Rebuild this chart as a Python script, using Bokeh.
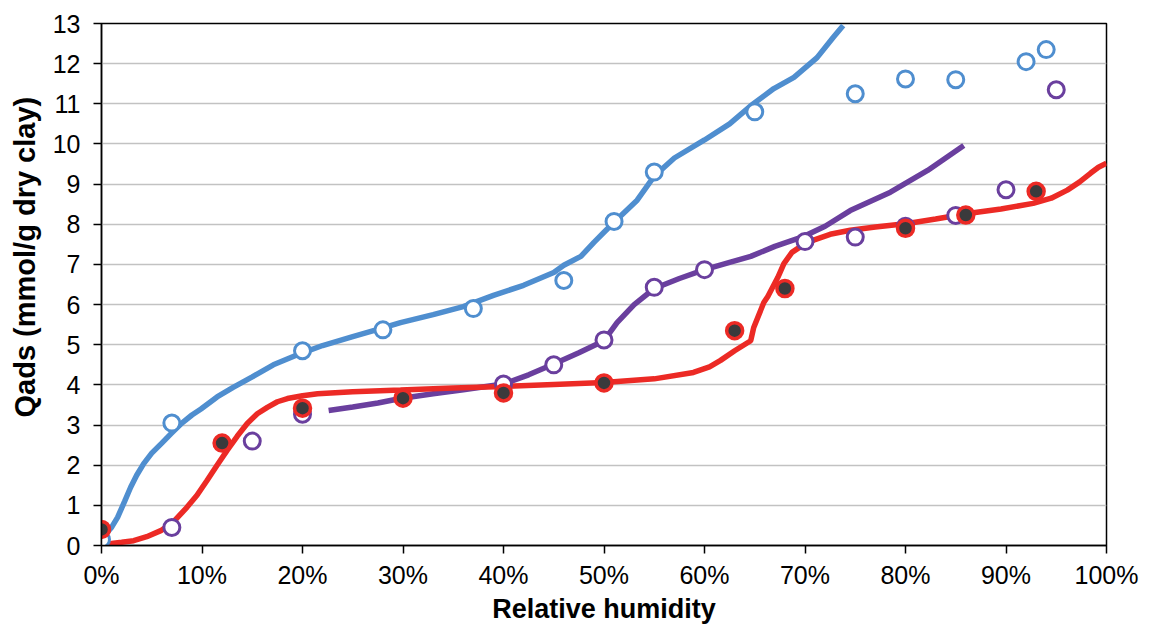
import math
from bokeh.plotting import figure
from bokeh.models import Range1d, FixedTicker, PrintfTickFormatter, Title
from bokeh.embed import file_html
from bokeh.resources import INLINE

# ---- data (x in % relative humidity, y in mmol/g dry clay) ----
blue_pts_x = [0, 7, 20, 28, 37, 46, 51, 55, 65, 75, 80, 85, 92, 94]
blue_pts_y = [0.15, 3.05, 4.85, 5.37, 5.9, 6.6, 8.07, 9.3, 10.8, 11.25, 11.62, 11.6, 12.05, 12.35]

purple_pts_x = [7, 15, 20, 40, 45, 50, 55, 60, 70, 75, 80, 85, 90, 95]
purple_pts_y = [0.45, 2.6, 3.27, 4.02, 4.5, 5.12, 6.43, 6.87, 7.57, 7.68, 7.95, 8.22, 8.86, 11.35]

red_pts_x = [0, 12, 20, 30, 40, 50, 63, 68, 80, 86, 93]
red_pts_y = [0.4, 2.55, 3.42, 3.67, 3.8, 4.05, 5.35, 6.4, 7.9, 8.23, 8.82]

blue_line_x = [0, 1, 1.6, 2.3, 2.9, 3.5, 4.2, 5, 6, 6.9, 8, 9, 9.9, 11.5, 13.1, 15, 17.1, 19.8,
               22, 25, 27.5, 29.75, 33, 36, 39, 42, 45, 46, 47.7, 49, 50, 51, 53.3, 55, 57,
               60, 62.5, 64.6, 66.9, 68.9, 71.2, 72.8, 73.8]
blue_line_y = [0.17, 0.45, 0.7, 1.1, 1.45, 1.75, 2.04, 2.3, 2.55, 2.78, 3.05, 3.25, 3.4, 3.7, 3.94,
               4.2, 4.5, 4.78, 4.98, 5.2, 5.38, 5.55, 5.75, 5.95, 6.23, 6.48, 6.8, 6.98, 7.2, 7.55,
               7.8, 8.05, 8.6, 9.2, 9.65, 10.1, 10.5, 10.95, 11.38, 11.66, 12.15, 12.65, 12.95]

purple_line_x = [22.6, 25, 27.5, 29.75, 33, 36, 40, 42.5, 45, 47.5, 50, 51.3, 53, 55, 57.5, 60,
                 62.5, 64.6, 67, 69.9, 72, 74.5, 78.5, 82.2, 85.8]
purple_line_y = [3.36, 3.45, 3.55, 3.66, 3.78, 3.88, 4.02, 4.25, 4.52, 4.8, 5.1, 5.55, 6.0, 6.4,
                 6.65, 6.87, 7.05, 7.2, 7.45, 7.7, 7.95, 8.34, 8.8, 9.34, 9.96]

red_line_x = [0.6, 2, 3.2, 4.5, 5.9, 7.2, 8.5, 9.5, 10.5, 11.5, 12.5, 13.5, 14.5, 15.5, 16.5, 17.5,
              18.5, 20, 21.5, 25, 29.75, 35, 40, 45, 50, 55, 58.9, 60.5, 61.6, 63, 64.6, 64.9,
              65.9, 66.3, 67.3, 67.9, 68.7, 69.6, 71, 72.5, 74.5, 77, 80.2, 83, 86.2, 89.5, 92.7,
              94.5, 96.1, 97.3, 98.4, 99.2, 100]
red_line_y = [0.04, 0.08, 0.12, 0.22, 0.37, 0.6, 0.95, 1.25, 1.62, 2.0, 2.37, 2.72, 3.04, 3.28,
              3.44, 3.58, 3.66, 3.73, 3.78, 3.83, 3.87, 3.92, 3.96, 4.01, 4.06, 4.15, 4.31, 4.45,
              4.61, 4.85, 5.1, 5.43, 6.05, 6.2, 6.68, 7.02, 7.3, 7.45, 7.62, 7.75, 7.85, 7.93,
              8.02, 8.13, 8.27, 8.38, 8.52, 8.65, 8.85, 9.05, 9.27, 9.42, 9.52]

x_ticks = [0, 10, 20, 30, 40, 50, 60, 70, 80, 90, 100]
y_ticks = list(range(0, 14))

BLUE = "#4f8ecf"
PURPLE = "#6a3f9e"
RED = "#ec2a25"
DARK = "#3a3a3c"
FONT = "Liberation Sans"

p = figure(width=1151, height=626, output_backend="svg", toolbar_location=None,
           x_range=Range1d(0, 100), y_range=Range1d(0, 13),
           min_border_left=101, min_border_right=45, min_border_top=23, min_border_bottom=81)
p.background_fill_color = "white"
p.border_fill_color = "white"
p.outline_line_color = "black"
p.outline_line_width = 1.5

p.xgrid.grid_line_color = None
p.ygrid.grid_line_color = "#c2c2c2"
p.ygrid.grid_line_width = 1.5

p.xaxis.ticker = FixedTicker(ticks=x_ticks)
p.xaxis.formatter = PrintfTickFormatter(format="%d%%")
p.yaxis.ticker = FixedTicker(ticks=y_ticks)
for ax in (p.xaxis, p.yaxis):
    ax.axis_line_color = "black"
    ax.axis_line_width = 1.5
    ax.major_tick_line_color = "black"
    ax.major_tick_line_width = 1.5
    ax.major_tick_in = 0
    ax.major_tick_out = 8
    ax.minor_tick_line_color = None
    ax.major_label_text_font = FONT
    ax.major_label_text_font_size = "25px"
    ax.major_label_text_color = "black"
p.yaxis.major_label_standoff = 13
p.xaxis.major_label_standoff = 7
p.xaxis.axis_label = "Relative humidity"
p.xaxis.axis_label_text_font = FONT
p.xaxis.axis_label_text_font_size = "27px"
p.xaxis.axis_label_text_font_style = "bold"
p.xaxis.axis_label_text_color = "black"
p.xaxis.axis_label_standoff = 2

ytitle = Title(text="Qads (mmol/g dry clay)", align="left", offset=128,
               text_font=FONT, text_font_size="29px", text_font_style="bold",
               text_color="black", standoff=14, vertical_align="top")
p.add_layout(ytitle, "left")

# lines
p.line(purple_line_x, purple_line_y, line_color=PURPLE, line_width=5.5)
p.line(red_line_x, red_line_y, line_color=RED, line_width=5.5)
p.line(blue_line_x, blue_line_y, line_color=BLUE, line_width=5.5)

# markers
p.scatter(blue_pts_x, blue_pts_y, marker="circle", size=16, fill_color="white",
          line_color=BLUE, line_width=3)
p.scatter(purple_pts_x, purple_pts_y, marker="circle", size=16, fill_color="white",
          line_color=PURPLE, line_width=3)
p.scatter(red_pts_x, red_pts_y, marker="circle", size=16, fill_color=DARK,
          line_color=RED, line_width=3.5)

open("out.html", "w").write(file_html(p, INLINE))
